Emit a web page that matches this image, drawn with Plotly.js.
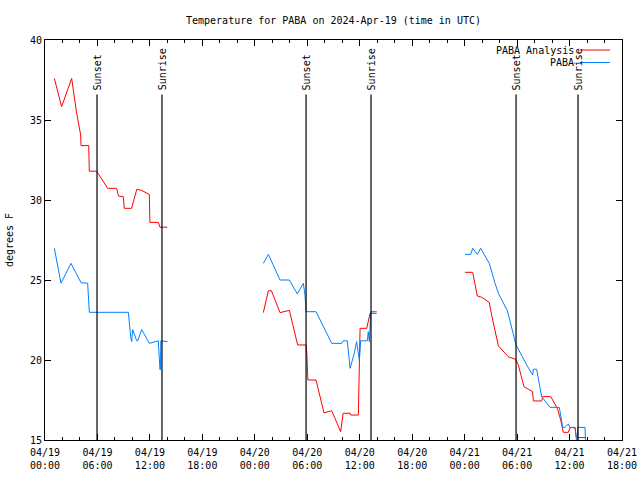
<!DOCTYPE html>
<html><head><meta charset="utf-8">
<script src="https://cdn.plot.ly/plotly-3.0.1.min.js"></script>
<style>body{margin:0;background:#fff}#plot{width:640px;height:480px}</style>
</head><body><div id="plot"></div>
<script>
// Hours since 2024-04-19 00:00 UTC
const analysisHours = [1.07,1.9,3.05,3.6,4.08,4.12,5.0,5.07,5.9,7.17,8.2,8.4,8.96,9.07,9.9,10.5,11.06,11.93,12.0,12.97,13.15,14.0,
  null,
  24.97,25.55,25.9,26.88,27.95,28.2,28.9,29.86,29.95,30.07,31.0,31.91,32.8,33.82,34.1,34.9,34.97,35.84,36.04,36.8,37.18,37.94,
  null,
  48.04,48.92,49.45,49.95,50.82,51.09,51.86,52.43,53.0,53.84,54.14,54.79,55.78,55.86,56.81,56.93,57.85,58.6,58.99,59.29,59.86,60.05,60.63,60.75,60.93,61.0,61.88];
const analysisTemps = [37.6,35.83,37.6,35.5,34.06,33.4,33.4,31.8,31.8,30.73,30.73,30.25,30.2,29.48,29.48,30.67,30.6,30.35,28.6,28.6,28.3,28.3,
  null,
  22.96,24.33,24.33,22.96,23.1,22.5,20.94,20.94,20.4,18.75,18.75,16.7,16.83,15.52,16.67,16.67,16.56,16.56,21.98,21.98,22.92,22.92,
  null,
  25.48,25.48,24.0,23.92,23.6,22.8,20.88,20.52,20.2,20.04,19.7,18.33,18.02,17.44,17.44,17.71,17.71,16.98,16.25,15.48,15.48,15.77,15.77,15.2,15.2,15.15,15.15];

const obsHours = [1.07,1.83,2.97,4.12,4.88,5.07,9.53,9.65,9.8,9.91,10.03,10.49,10.6,11.06,11.93,12.96,13.04,13.15,13.2,13.25,14.0,
  null,
  24.97,25.55,26.88,27.95,28.86,29.55,29.74,29.86,31.0,32.8,33.94,34.1,34.58,34.9,35.37,35.64,35.96,36.1,36.87,36.98,37.1,37.26,37.94,
  null,
  48.04,48.7,48.92,49.45,49.84,50.82,51.48,51.86,52.89,53.39,53.88,55.1,55.78,55.86,56.24,56.81,57.77,58.83,59.22,59.47,59.86,60.05,60.63,60.75,60.85,60.93,61.77,61.85];
const obsTemps = [26.98,24.8,26.04,24.83,24.8,22.98,22.98,22.08,21.46,21.15,21.9,21.2,21.2,21.9,21.04,21.2,20.25,19.4,19.4,21.2,21.15,
  null,
  26.04,26.6,25.0,25.0,24.13,24.79,24.06,23.02,23.02,21.04,21.04,21.2,21.2,19.48,20.42,21.15,19.96,21.2,21.2,21.77,21.15,23.02,23.02,
  null,
  26.6,26.6,26.98,26.6,26.98,26.04,24.79,24.17,23.08,22.08,20.94,19.69,19.06,19.42,19.42,17.71,17.04,17.04,15.79,15.79,16.0,15.79,15.79,15.25,14.5,15.79,15.79,14.5];

const sunsetHours = [5.95, 29.86, 53.88];
const sunriseHours = [13.38, 37.29, 60.97];
const markerTop = 36.6;

const tickHours = [0,6,12,18,24,30,36,42,48,54,60,66];
const tickLabels = ['04/19<br>00:00','04/19<br>06:00','04/19<br>12:00','04/19<br>18:00',
  '04/20<br>00:00','04/20<br>06:00','04/20<br>12:00','04/20<br>18:00',
  '04/21<br>00:00','04/21<br>06:00','04/21<br>12:00','04/21<br>18:00'];

const seriesNames = ['PABA Analysis','PABA'];
const seriesColors = ['#ff0000','#0080ff'];

const font = {family:'DejaVu Sans Mono, monospace', size:10, color:'#000'};

const traces = [
  {x:analysisHours, y:analysisTemps, name:seriesNames[0], mode:'lines', line:{color:seriesColors[0], width:1}, connectgaps:false},
  {x:obsHours, y:obsTemps, name:seriesNames[1], mode:'lines', line:{color:seriesColors[1], width:1}, connectgaps:false}
];

const shapes = [];
const annotations = [];
const events = [];
sunsetHours.forEach(h => events.push([h,'Sunset']));
sunriseHours.forEach(h => events.push([h,'Sunrise']));
events.forEach(([h,label]) => {
  shapes.push({type:'line', xref:'x', yref:'y', x0:h, x1:h, y0:15, y1:markerTop, line:{color:'#000', width:1.2}});
  annotations.push({xref:'x', yref:'y', x:h, y:markerTop, text:label, textangle:-90, showarrow:false,
    xanchor:'center', yanchor:'bottom', yshift:2, font:font});
});
// legend (gnuplot style: text left of sample)
seriesNames.forEach((n,i) => {
  const yp = 1 - (10 + i*12.5)/400;
  annotations.push({xref:'paper', yref:'paper', x:(576-45)/577, y:yp, text:n, showarrow:false,
    xanchor:'right', yanchor:'middle', font:font});
  shapes.push({type:'line', xref:'paper', yref:'paper', x0:(580-45)/577, x1:(610-45)/577, y0:yp, y1:yp,
    line:{color:seriesColors[i], width:1}});
});

const layout = {
  width:640, height:480,
  margin:{l:45, r:18, t:40, b:40},
  paper_bgcolor:'#fff', plot_bgcolor:'#fff',
  font:font,
  showlegend:false,
  title:{text:'Temperature for PABA on 2024-Apr-19 (time in UTC)', font:font, x:0.5, xref:'paper', y:1-20/480, yanchor:'middle'},
  xaxis:{range:[0,66], tickmode:'array', tickvals:tickHours, ticktext:tickLabels,
    showgrid:false, zeroline:false, showline:true, linecolor:'#000', linewidth:1, mirror:'ticks',
    ticks:'inside', ticklen:6, tickcolor:'#000', tickfont:font, ticklabelstandoff:3,
    minor:{dtick:2, tick0:0, ticks:'inside', ticklen:3, tickcolor:'#000', showgrid:false}},
  yaxis:{range:[15,40], dtick:5, tick0:15, showgrid:false, zeroline:false, showline:true, linecolor:'#000', linewidth:1,
    mirror:'ticks', ticks:'inside', ticklen:6, tickcolor:'#000', tickfont:font,
    title:{text:'degrees F', font:font, standoff:14}},
  shapes:shapes,
  annotations:annotations
};

Plotly.newPlot('plot', traces, layout, {displayModeBar:false, staticPlot:true});
</script>
</body></html>
